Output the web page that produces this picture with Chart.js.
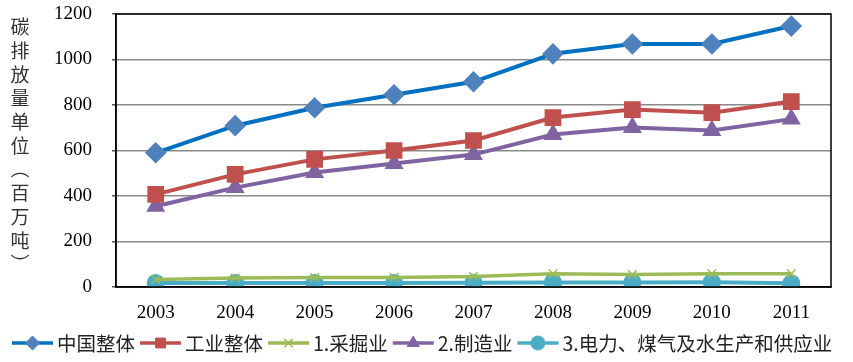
<!DOCTYPE html>
<html>
<head>
<meta charset="utf-8">
<script src="https://cdn.jsdelivr.net/npm/chart.js@4.4.1/dist/chart.umd.min.js"></script>
<style>
  html, body { margin: 0; padding: 0; background: #fff; }
  #wrap { width: 853px; height: 362px; }
</style>
</head>
<body>
<div id="wrap"><canvas id="myChart" width="853" height="362"></canvas></div>
<script>
const years = ['2003', '2004', '2005', '2006', '2007', '2008', '2009', '2010', '2011'];
const chinaTotal = [590, 709, 788, 845, 902, 1025, 1068, 1068, 1147];
const industryTotal = [407, 495, 561, 600, 644, 745, 780, 766, 815];
const mining = [33, 40, 42, 42, 46, 58, 55, 58, 58];
const manufacturing = [355, 437, 503, 543, 582, 670, 701, 688, 738];
const utilities = [18, 18, 18, 18, 19, 20, 20, 21, 16];
const yTitle = ['碳', '排', '放', '量', '单', '位', '︵', '百', '万', '吨', '︶'];

// line + marker in the middle, as in the Excel legend
function drawLegendIcon(g, x, y, ds) {
    g.save();
    g.strokeStyle = ds.borderColor;
    g.lineWidth = 3.5;
    g.beginPath();
    g.moveTo(x, y);
    g.lineTo(x + 41, y);
    g.stroke();
    g.fillStyle = ds.pointBackgroundColor;
    g.strokeStyle = ds.pointBorderColor;
    g.lineWidth = ds.pointBorderWidth || 1;
    const r = ds.pointStyle === 'crossRot' ? 6 : 7;
    Chart.helpers.drawPoint(g, {pointStyle: ds.pointStyle, radius: r, rotation: 0, borderWidth: ds.pointBorderWidth || 1}, x + 20.5, y);
    g.restore();
}

const extras = {
    id: 'extras',
    afterDraw(chart) {
        const a = chart.chartArea;
        const ctx = chart.ctx;
        ctx.save();
        // frame round the plot
        ctx.strokeStyle = '#000';
        ctx.lineWidth = 1.5;
        ctx.strokeRect(a.left, a.top, a.right - a.left, a.bottom - a.top);

        // upright y title
        ctx.fillStyle = '#333';
        ctx.font = '19px "Noto Sans CJK SC"';
        ctx.textAlign = 'center';
        ctx.textBaseline = 'middle';
        yTitle.forEach((ch, i) => {
            ctx.fillText(ch, 20, 27 + i * 23.7);
        });

        // legend
        ctx.font = '19.5px "Noto Sans CJK SC"';
        ctx.textAlign = 'left';
        ctx.fillStyle = '#222';
        let x = 12;
        const y = 343;
        chart.data.datasets.forEach(ds => {
            drawLegendIcon(ctx, x, y, ds);
            x += 41 + 4;
            ctx.fillText(ds.label, x, y + 1);
            x += ctx.measureText(ds.label).width + 5;
        });
        ctx.restore();
    }
};

const ctx = document.getElementById('myChart').getContext('2d');
const myChart = new Chart(ctx, {
    type: 'line',
    data: {
        labels: years,
        datasets: [{
            label: '中国整体',
            data: chinaTotal,
            borderColor: '#0070C0',
            borderWidth: 4,
            pointStyle: 'rectRot',
            pointRadius: 8,
            pointBackgroundColor: '#4F81BD',
            pointBorderColor: '#4F81BD'
        }, {
            label: '工业整体',
            data: industryTotal,
            borderColor: '#C0504D',
            borderWidth: 4,
            pointStyle: 'rect',
            pointRadius: 9,
            pointBackgroundColor: '#C0504D',
            pointBorderColor: '#C0504D'
        }, {
            label: '1.采掘业',
            data: mining,
            borderColor: '#9BBB59',
            borderWidth: 3.5,
            pointStyle: 'crossRot',
            pointRadius: 6,
            pointBorderWidth: 1.5,
            pointBackgroundColor: '#9BBB59',
            pointBorderColor: '#9BBB59'
        }, {
            label: '2.制造业',
            data: manufacturing,
            borderColor: '#8064A2',
            borderWidth: 4,
            pointStyle: 'triangle',
            pointRadius: 7,
            pointBackgroundColor: '#8064A2',
            pointBorderColor: '#8064A2'
        }, {
            label: '3.电力、煤气及水生产和供应业',
            data: utilities,
            borderColor: '#4BACC6',
            borderWidth: 4,
            pointStyle: 'circle',
            pointRadius: 7,
            pointBackgroundColor: '#4BACC6',
            pointBorderColor: '#4BACC6'
        }]
    },
    options: {
        responsive: false,
        animation: false,
        layout: {
            autoPadding: false,
            padding: {left: 53, right: 22, top: 14, bottom: 38}
        },
        scales: {
            x: {
                offset: true,
                grid: {display: false},
                border: {display: true, color: '#000', width: 1.5},
                ticks: {
                    color: '#000',
                    padding: 7,
                    font: {family: '"Liberation Serif"', size: 19}
                },
                afterFit(scale) {
                    scale.height = 37;
                    scale.paddingLeft = 0;
                    scale.paddingRight = 0;
                }
            },
            y: {
                min: 0,
                max: 1200,
                grid: {color: '#8A8A8A', lineWidth: 1.5, tickLength: 4, tickColor: '#555'},
                border: {display: true, color: '#000', width: 1.5},
                ticks: {
                    stepSize: 200,
                    color: '#000',
                    padding: 20,
                    font: {family: '"Liberation Serif"', size: 19},
                    callback: v => String(v)
                },
                afterFit(scale) {
                    scale.width = 63;
                    scale.paddingTop = 0;
                    scale.paddingBottom = 0;
                }
            }
        },
        plugins: {
            tooltip: {enabled: false},
            legend: {display: false}
        }
    },
    plugins: [extras]
});
</script>
</body>
</html>
